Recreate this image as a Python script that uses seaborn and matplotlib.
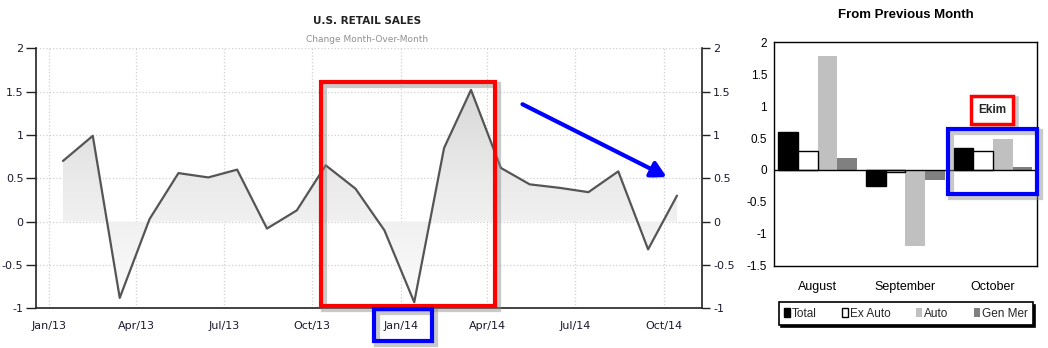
import numpy as np
import pandas as pd
import matplotlib
matplotlib.use("Agg")
import matplotlib.pyplot as plt
import matplotlib.dates as mdates
import matplotlib.patches as mpatches
import matplotlib.patheffects as pe
from matplotlib.colors import LinearSegmentedColormap
import seaborn as sns

# ---------------- data ----------------
months = ["2013-01", "2013-02", "2013-03", "2013-04", "2013-05", "2013-06",
          "2013-07", "2013-08", "2013-09", "2013-10", "2013-11", "2013-12",
          "2014-01", "2014-02", "2014-03", "2014-04", "2014-05", "2014-06",
          "2014-07", "2014-08", "2014-09", "2014-10"]
mom_change = [0.70, 0.99, -0.88, 0.03, 0.56, 0.51, 0.60, -0.08, 0.13, 0.65,
              0.38, -0.10, -0.93, 0.85, 1.52, 0.62, 0.43, 0.39, 0.34, 0.58,
              -0.32, 0.30]

bar_months = ["August", "September", "October"]
bar_series = ["Total", "Ex Auto", "Auto", "Gen Mer"]
total_vals = [0.60, -0.25, 0.34]
exauto_vals = [0.30, -0.03, 0.30]
auto_vals = [1.78, -1.19, 0.49]
genmer_vals = [0.18, -0.16, 0.04]

left_title = "U.S. RETAIL SALES"
left_subtitle = "Change Month-Over-Month"
right_title = "From Previous Month"
ekim_label = "Ekim"

# ---------------- style ----------------
sns.set_style("white")
plt.rcParams["font.family"] = ["DejaVu Sans"]

W, H = 1048, 348
fig = plt.figure(figsize=(W / 100, H / 100), dpi=100)


def fx(px):
    return px / W


def fy(py):
    return 1 - py / H


# ---------------- left line chart ----------------
df_line = pd.DataFrame({
    "date": pd.to_datetime([m + "-15" for m in months]),
    "value": mom_change,
})

ax = fig.add_axes([fx(36), fy(308.3), fx(702) - fx(36), fy(48.3) - fy(308.3)])
ax.set_xlim(pd.Timestamp("2012-12-18"), pd.Timestamp("2014-11-10"))
ax.set_ylim(-1, 2)

xnum = mdates.date2num(df_line["date"])
poly = ax.fill_between(xnum, df_line["value"], 0, color="none", lw=0)
cmap = LinearSegmentedColormap.from_list("fillgrad", ["#fdfdfd", "#eaeaea", "#d0d0d0"])
grad = np.linspace(1, 0, 256).reshape(-1, 1)
x0, x1 = ax.get_xlim()
im = ax.imshow(grad, aspect="auto", cmap=cmap, vmin=0, vmax=1,
               extent=[x0, x1, -1, 2], origin="upper", zorder=1)
path = poly.get_paths()[0]
im.set_clip_path(path, transform=ax.transData)
ax.set_xlim(x0, x1)
ax.set_ylim(-1, 2)

sns.lineplot(data=df_line, x="date", y="value", ax=ax, color="#555555",
             linewidth=1.6, zorder=3)

ax.xaxis.set_major_locator(mdates.MonthLocator(bymonth=[1, 4, 7, 10]))
ax.xaxis.set_major_formatter(mdates.DateFormatter("%b/%y"))
ax.set_yticks([2, 1.5, 1, 0.5, 0, -0.5, -1])
ax.set_yticklabels(["2", "1.5", "1", "0.5", "0", "-0.5", "-1"])
ax.grid(True, which="major", color="#d0d0d0", linestyle=":", linewidth=0.9)
ax.set_axisbelow(True)
ax.set_xlabel("")
ax.set_ylabel("")
for s in ["top", "right"]:
    ax.spines[s].set_visible(False)
ax.spines["left"].set_color("#222222")
ax.spines["bottom"].set_color("#222222")
ax.spines["left"].set_linewidth(1.2)
ax.spines["bottom"].set_linewidth(1.2)
ax.tick_params(axis="y", direction="out", length=7, width=1, color="#222222",
               labelsize=8, labelcolor="#1a1a30", pad=2)
ax.tick_params(axis="x", direction="out", length=5, width=1, color="#222222",
               labelsize=8, labelcolor="#1a1a30", pad=4)

ax2 = ax.twinx()
ax2.set_ylim(-1, 2)
ax2.set_yticks([2, 1.5, 1, 0.5, 0, -0.5, -1])
ax2.set_yticklabels(["2", "1.5", "1", "0.5", "0", "-0.5", "-1"])
for s in ["top", "left", "bottom"]:
    ax2.spines[s].set_visible(False)
ax2.spines["right"].set_color("#222222")
ax2.spines["right"].set_linewidth(1.2)
ax2.tick_params(axis="y", direction="out", length=6, width=1, color="#222222",
                labelsize=8, labelcolor="#1a1a30", pad=2)
ax2.grid(False)

fig.text(fx(367), fy(21), left_title, ha="center", va="center",
         fontsize=7.5, fontweight="bold", color="#222222")
fig.text(fx(367), fy(39.5), left_subtitle, ha="center", va="center",
         fontsize=6.5, color="#909090")

# ---------------- right bar chart ----------------
narrow = ["Liberation Sans Narrow", "Liberation Sans", "DejaVu Sans"]
df_bar = pd.DataFrame({
    "month": np.repeat(bar_months, len(bar_series)),
    "series": bar_series * len(bar_months),
    "value": np.ravel(np.column_stack([total_vals, exauto_vals, auto_vals, genmer_vals])),
})
palette = {"Total": "#000000", "Ex Auto": "#ffffff", "Auto": "#c0c0c0", "Gen Mer": "#808080"}

bx = fig.add_axes([fx(774), fy(265.7), fx(1036.7) - fx(774), fy(42.3) - fy(265.7)])
sns.barplot(data=df_bar, x="month", y="value", hue="series", order=bar_months,
            hue_order=bar_series, palette=palette, width=0.9, ax=bx,
            legend=True, saturation=1)
edge_w = {"Total": 1.0, "Ex Auto": 1.0, "Auto": 0.0, "Gen Mer": 0.0}
zord = {"Total": 3, "Ex Auto": 4, "Auto": 2, "Gen Mer": 2}
for cont, name in zip(bx.containers, bar_series):
    for p in cont:
        p.set_edgecolor("black")
        p.set_linewidth(edge_w[name])
        p.set_zorder(zord[name])
bx.axhline(0, color="black", lw=1.0, zorder=5)
bx.set_ylim(-1.5, 2)
bx.set_yticks([2, 1.5, 1, 0.5, 0, -0.5, -1, -1.5])
bx.set_yticklabels(["2", "1.5", "1", "0.5", "0", "-0.5", "-1", "-1.5"],
                   family=narrow)
bx.set_xticks(range(len(bar_months)))
bx.set_xticklabels(bar_months, family=narrow)
bx.set_xlabel("")
bx.set_ylabel("")
for s in bx.spines.values():
    s.set_visible(True)
    s.set_color("black")
    s.set_linewidth(1.0)
bx.tick_params(axis="y", direction="inout", length=4, width=1, labelsize=8.5,
               pad=3, colors="black")
bx.tick_params(axis="x", length=0, labelsize=9, pad=11, colors="black")

handles, labels = bx.get_legend_handles_labels()
bx.get_legend().remove()
leg = fig.legend(handles, labels, loc="lower left",
                 bbox_to_anchor=(fx(779), fy(325), fx(1033) - fx(779), fy(300) - fy(325)),
                 mode="expand", ncol=4, frameon=True, fancybox=False,
                 shadow={"color": "black", "alpha": 1.0, "ox": 1.6, "oy": -1.6},
                 borderaxespad=0, handlelength=0.5, handleheight=0.75,
                 handletextpad=0.15, columnspacing=1.5, borderpad=0.45,
                 prop={"family": narrow, "size": 8.5})
leg.get_frame().set_edgecolor("black")
leg.get_frame().set_linewidth(1.2)
for h, name in zip(leg.legend_handles, bar_series):
    h.set_edgecolor("black" if name in ("Total", "Ex Auto") else palette[name])
    h.set_linewidth(1.0 if name in ("Total", "Ex Auto") else 0.0)

fig.text(fx(906), fy(15), right_title, ha="center", va="center",
         fontsize=9.5, fontweight="bold", family=narrow, color="black")


# ---------------- annotations ----------------
def box(x0, y0, x1, y1, color, lw=3.0, face=None):
    # soft shadow (offset outline), then the box
    sh = mpatches.Rectangle((fx(x0 + 2.5), fy(y1 + 2.5)), fx(x1) - fx(x0), fy(y0) - fy(y1),
                            transform=fig.transFigure, fill=False,
                            edgecolor="#888888", alpha=0.45, linewidth=lw + 1.5, zorder=9)
    fig.add_artist(sh)
    r = mpatches.Rectangle((fx(x0), fy(y1)), fx(x1) - fx(x0), fy(y0) - fy(y1),
                           transform=fig.transFigure, fill=face is not None,
                           facecolor=face if face else "none",
                           edgecolor=color, linewidth=lw, zorder=10)
    fig.add_artist(r)


box(321, 82, 495, 306, "#ff0000")
box(374, 309, 432, 341, "#0000ff")
box(948, 129, 1037, 194, "#0000ff")
box(971, 96, 1013, 124, "#ff0000", lw=2.5, face="white")
fig.text(fx(992), fy(110), ekim_label, ha="center", va="center", fontsize=8.5,
         fontweight="bold", family=narrow, zorder=11)

arrow = mpatches.FancyArrowPatch((fx(520), fy(103)), (fx(669), fy(178)),
                                 transform=fig.transFigure,
                                 arrowstyle="-|>,head_length=9,head_width=5",
                                 color="#0000ff", linewidth=3, zorder=10)
arrow.set_path_effects([pe.SimplePatchShadow(offset=(2, -2), shadow_rgbFace="#555555", alpha=0.4), pe.Normal()])
fig.add_artist(arrow)

fig.savefig("out.png", dpi=100)
